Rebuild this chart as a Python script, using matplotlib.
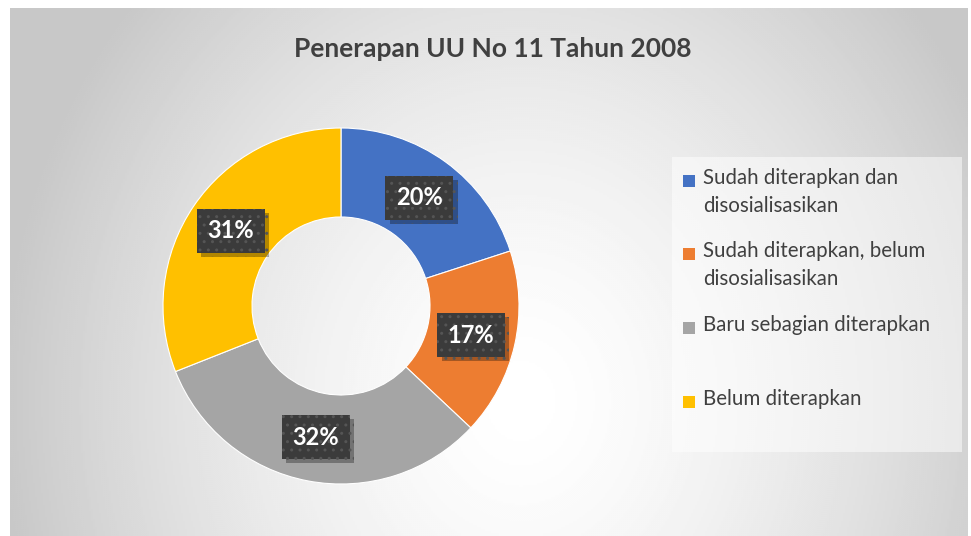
import numpy as np
import matplotlib
matplotlib.use("Agg")
import matplotlib.pyplot as plt
from matplotlib.patches import Rectangle
import matplotlib.patheffects as pe

# --- data ---
title = "Penerapan UU No 11 Tahun 2008"
categories = [
    "Sudah diterapkan dan\ndisosialisasikan",
    "Sudah diterapkan, belum\ndisosialisasikan",
    "Baru sebagian diterapkan",
    "Belum diterapkan",
]
values = [20, 17, 32, 31]
colors = ["#4472C4", "#ED7D31", "#A5A5A5", "#FFC000"]

plt.rcParams["font.family"] = ["Lato", "DejaVu Sans"]

W, H = 971, 536
fig = plt.figure(figsize=(W / 100, H / 100), dpi=100)
fig.patch.set_facecolor("white")

# background: radial gradient over the chart area (pixel coords)
bg = fig.add_axes([0, 0, 1, 1])
bg.set_axis_off()
yy, xx = np.mgrid[8:H:2, 10:968:2].astype(float)
d = np.sqrt(((xx - 520) / 520) ** 2 + ((yy - 400) / 600) ** 2)
d = np.clip(d, 0, 1)
shade = (255 - 55 * d ** 1.5) / 255
bg.imshow(shade, cmap="gray", vmin=0, vmax=1, aspect="auto",
          extent=[10, 968, H, 8], interpolation="bilinear")
bg.set_xlim(0, W)
bg.set_ylim(H, 0)

# title
bg.text(493, 49, title, ha="center", va="center",
        fontsize=19, fontweight="bold", color="#404040")

# donut
cxp, cyp, r = 341, 306, 178
ax = fig.add_axes([(cxp - r) / W, (H - cyp - r) / H, 2 * r / W, 2 * r / H])
ax.set_axis_off()
wedges, _ = ax.pie(values, colors=colors, startangle=90, counterclock=False,
                   radius=1.0, wedgeprops=dict(width=0.5, edgecolor="white", linewidth=0.8))
ax.set_xlim(-1, 1)
ax.set_ylim(-1, 1)

total = float(sum(values))
start = 90.0
for v in values:
    mid = np.deg2rad(start - 360 * v / total / 2)
    start -= 360 * v / total
    x, y = 0.75 * np.cos(mid), 0.75 * np.sin(mid)
    t = ax.text(x, y, f"{v}%", ha="center", va="center", fontsize=17,
                fontweight="bold", color="white",
                bbox=dict(boxstyle="square,pad=0.45", fc="#3b3b3b", ec="#555555",
                          hatch="..", linewidth=0))
    t.get_bbox_patch().set_path_effects(
        [pe.SimplePatchShadow(offset=(3, -3), shadow_rgbFace="black", alpha=0.3),
         pe.Normal()])

# legend (manual, handles aligned with first text line)
bg.add_patch(Rectangle((672, 157), 290, 295, fc="white", alpha=0.5, ec="none"))
row_y = [181, 254, 328, 402]
for lab, c, yv in zip(categories, colors, row_y):
    bg.add_patch(Rectangle((683, yv - 6), 12, 12, fc=c, ec="none"))
    bg.text(703, yv - 13, lab, ha="left", va="top", fontsize=14.8, color="#404040",
            linespacing=1.5)

fig.savefig("out.png", dpi=100)
